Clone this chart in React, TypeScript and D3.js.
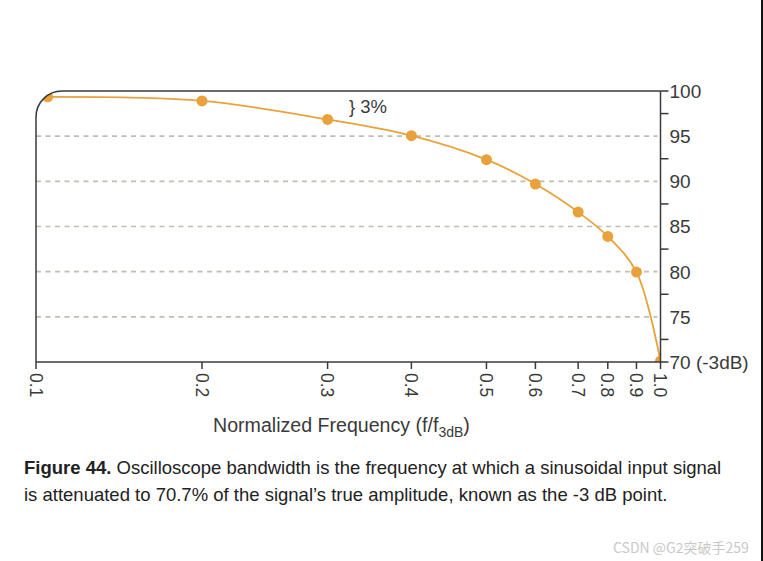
import React from 'react'
import * as d3 from 'd3'

// normalized frequency (f/f3dB) and measured amplitude (% of true amplitude)
const FREQ = [0.107, 0.2, 0.3, 0.4, 0.5, 0.6, 0.7, 0.8, 0.9, 1.0]
const AMPLITUDE = [99.35, 98.9, 96.85, 95.05, 92.4, 89.7, 86.6, 83.9, 79.95, 70.1]

const X_TICKS = [0.1, 0.2, 0.3, 0.4, 0.5, 0.6, 0.7, 0.8, 0.9, 1.0]
const Y_LABELS = ['100', '95', '90', '85', '80', '75', '70 (-3dB)']
const Y_LABEL_VALUES = [100, 95, 90, 85, 80, 75, 70]
const GRID_VALUES = [95, 90, 85, 80, 75]

const CAPTION_BOLD = 'Figure 44.'
const CAPTION_1 = ' Oscilloscope bandwidth is the frequency at which a sinusoidal input signal'
const CAPTION_2 = 'is attenuated to 70.7% of the signal\u2019s true amplitude, known as the -3 dB point.'

const W = 763
const H = 561
const FONT = '"Liberation Sans", Arial, Helvetica, sans-serif'
const ORANGE = '#e9a23b'
const INK = '#3a3a3a'

export default function App() {
    const left = 36, right = 660.5, top = 91, bottom = 362
    const r = 26

    // the illustration's frequency axis is hand-spaced, so map each tick to its share of the width
    const tickShare = [0, 0.2658, 0.4669, 0.6011, 0.7213, 0.7997, 0.8681, 0.9156, 0.9615, 1]
    const x = d3.scaleLinear()
        .domain(X_TICKS)
        .range(tickShare.map(s => left + s * (right - left)))
    const y = d3.scaleLinear().domain([70, 100]).range([bottom, top])

    const pts: [number, number][] = FREQ.map((f, i) => [x(f), y(AMPLITUDE[i])])
    const line = d3.line().curve(d3.curveCatmullRom.alpha(0.5))(pts) || ''

    const minorTicks = d3.range(70, 100.01, 2.5).filter(v => v % 5 !== 0 || v === 100 || v === 70)

    const frame = `M${left},${bottom} L${left},${top + r} A${r},${r} 0 0 1 ${left + r},${top} L${right},${top}`
    const clip = `M${left},${bottom} L${left},${top + r} A${r},${r} 0 0 1 ${left + r},${top} L${right},${top} L${right},${bottom} Z`

    return (
        <svg width={W} height={H} viewBox={`0 0 ${W} ${H}`}
            style={{ position: 'absolute', left: 0, top: 0, background: '#fff', fontFamily: FONT }}>
            <defs>
                <clipPath id="plotClip"><path d={clip} /></clipPath>
            </defs>
            <rect x={0} y={0} width={W} height={H} fill="#fff" />

            {/* dashed grid */}
            {GRID_VALUES.map(v => (
                <line key={v} x1={left} x2={right - 3} y1={y(v)} y2={y(v)}
                    stroke="#c4bbb1" strokeWidth={1.6} strokeDasharray="5 4.5" />
            ))}

            {/* curve + points */}
            <g clipPath="url(#plotClip)">
                <path d={line} fill="none" stroke={ORANGE} strokeWidth={1.8} />
                {pts.map((p, i) => (
                    <circle key={i} cx={p[0]} cy={p[1]} r={5.5} fill={ORANGE} />
                ))}
            </g>

            {/* frame */}
            <path d={frame} fill="none" stroke={INK} strokeWidth={1.5} />
            <line x1={left} x2={right + 1} y1={bottom} y2={bottom} stroke={INK} strokeWidth={1.5} />
            <line x1={right} x2={right} y1={top} y2={bottom} stroke={INK} strokeWidth={1.5} />

            {/* right axis */}
            {minorTicks.map(v => (
                <line key={v} x1={right} x2={right + 8} y1={y(v)} y2={y(v)} stroke={INK} strokeWidth={1.5} />
            ))}
            {Y_LABEL_VALUES.map((v, i) => (
                <text key={v} x={right + 9} y={y(v)} dy="0.36em" fontSize={19} fill={INK}>{Y_LABELS[i]}</text>
            ))}

            {/* bottom axis */}
            {X_TICKS.map(t => (
                <g key={t} transform={`translate(${x(t)},${bottom})`}>
                    <line y1={0} y2={7} stroke={INK} strokeWidth={1.5} />
                    <text transform="translate(0,11) rotate(90)" dy="0.36em" fontSize={17.5} fill={INK}>
                        {t.toFixed(1)}
                    </text>
                </g>
            ))}

            {/* annotation */}
            <text x={349} y={113} fontSize={18.5} fill={INK}>{'} 3%'}</text>

            {/* axis title */}
            <text x={213} y={432} fontSize={19.6} fill={INK}>
                Normalized Frequency (f/f
                <tspan fontSize={14} dy={5}>3dB</tspan>
                <tspan dy={-5}>)</tspan>
            </text>

            {/* caption */}
            <text x={24} y={474} fontSize={18.5} fill="#222">
                <tspan fontWeight="bold">{CAPTION_BOLD}</tspan>{CAPTION_1}
            </text>
            <text x={24} y={501} fontSize={18.5} fill="#222">{CAPTION_2}</text>

            {/* watermark */}
            <text x={613} y={553} fontSize={14} fill="#c8c8c8"
                fontFamily={'"Noto Sans CJK SC", "Noto Sans", sans-serif'}>CSDN @G2突破手259</text>

            <rect x={761} y={0} width={2} height={H} fill="#111" />
        </svg>
    )
}
